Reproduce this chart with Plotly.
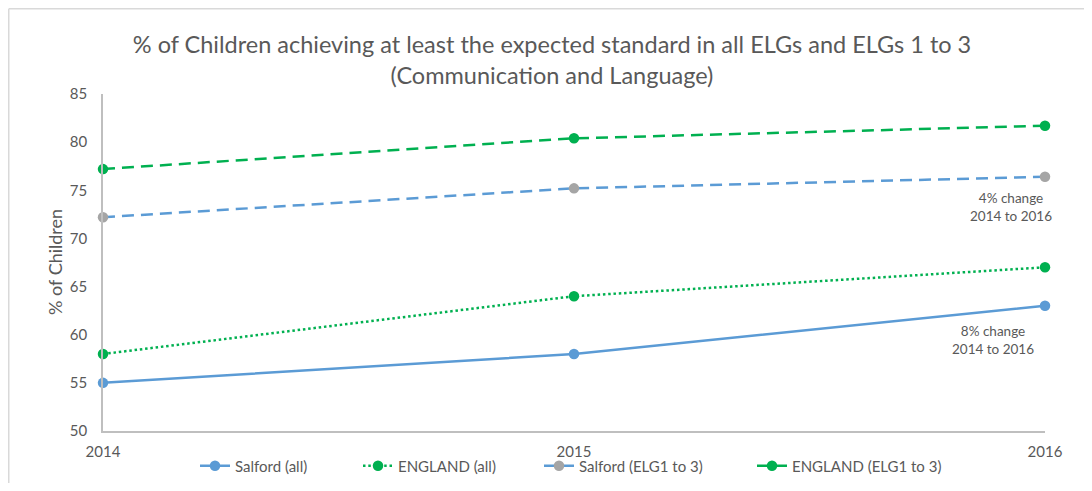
import plotly.graph_objects as go

years = [2014, 2015, 2016]
salford_all = [55, 58, 63]
england_all = [58, 64, 67]
salford_elg = [72.2, 75.2, 76.4]
england_elg = [77.2, 80.4, 81.7]
y_ticks = [50, 55, 60, 65, 70, 75, 80, 85]

BLUE = "#5B9BD5"
GREEN = "#00B050"
GRAY = "#A5A5A5"
TXT = "#595959"
FONT = "Lato"
DASH = "12px,7px"
DOT = "2.5px,2.8px"

# page body has an 8px margin, so the figure is drawn offset by (8, 8)
OFF = 8
W, H = 1092 - 2 * OFF, 491 - 2 * OFF
ML, MT = 103 - OFF, 94 - OFF
MR = W - (1045 - OFF)
MB = H - (431 - OFF)
PW, PH = W - ML - MR, H - MT - MB


def px_x(px):  # px in page coordinates
    return (px - OFF - ML) / PW


def px_y(py):
    return (H - MB - (py - OFF)) / PH


fig = go.Figure()
fig.add_trace(go.Scatter(x=years, y=salford_all, name="Salford (all)", mode="lines+markers",
                         line=dict(color=BLUE, width=2.5), marker=dict(color=BLUE, size=10.5),
                         cliponaxis=False, legend="legend"))
fig.add_trace(go.Scatter(x=years, y=england_all, name="ENGLAND (all)", mode="lines+markers",
                         line=dict(color=GREEN, width=2.5, dash=DOT), marker=dict(color=GREEN, size=10.5),
                         cliponaxis=False, legend="legend2"))
fig.add_trace(go.Scatter(x=years, y=salford_elg, name="Salford (ELG1 to 3)", mode="lines+markers",
                         line=dict(color=BLUE, width=2.5, dash=DASH), marker=dict(color=GRAY, size=10.5),
                         cliponaxis=False, legend="legend3"))
fig.add_trace(go.Scatter(x=years, y=england_elg, name="ENGLAND (ELG1 to 3)", mode="lines+markers",
                         line=dict(color=GREEN, width=2.5, dash=DASH), marker=dict(color=GREEN, size=10.5),
                         cliponaxis=False, legend="legend4"))

fig.add_annotation(x=2016, y=salford_elg[2], xref="x", yref="y", text="4% change<br>2014 to 2016",
                   showarrow=False, xanchor="center", yanchor="top", xshift=-34, yshift=-11,
                   font=dict(family=FONT, size=13.5, color=TXT))
fig.add_annotation(x=2016, y=salford_all[2], xref="x", yref="y", text="8% change<br>2014 to 2016",
                   showarrow=False, xanchor="center", yanchor="top", xshift=-52, yshift=-15,
                   font=dict(family=FONT, size=13.5, color=TXT))

# y-axis title
fig.add_annotation(x=px_x(55), y=px_y(262), xref="paper", yref="paper", text="% of Children",
                   showarrow=False, textangle=-90, xanchor="center", yanchor="middle",
                   font=dict(family=FONT, size=18, color=TXT))

# chart border (top and left)
fig.add_shape(type="line", xref="paper", yref="paper", x0=px_x(8.75), x1=px_x(1100), y0=px_y(8.75), y1=px_y(8.75),
              line=dict(color="#D9D9D9", width=1.5))
fig.add_shape(type="line", xref="paper", yref="paper", x0=px_x(8.75), x1=px_x(8.75), y0=px_y(8.75), y1=px_y(500),
              line=dict(color="#D9D9D9", width=1.5))

leg_common = dict(orientation="h", yanchor="middle", xanchor="left", y=px_y(466),
                  font=dict(size=15, color=TXT, family=FONT), bgcolor="rgba(0,0,0,0)")
text_starts = [237, 400, 581, 794]

fig.update_layout(
    width=W, height=H,
    margin=dict(l=ML, r=MR, t=MT, b=MB, autoexpand=False),
    paper_bgcolor="white", plot_bgcolor="white",
    font=dict(family=FONT, color=TXT, size=15),
    title=dict(text="% of Children achieving at least the expected standard in all ELGs and ELGs 1 to 3<br>(Communication and Language)",
               x=(552 - OFF) / W, xanchor="center", y=1 - (53 - OFF) / H, yanchor="middle",
               font=dict(family=FONT, size=23.5, color=TXT)),
    xaxis=dict(range=[2014, 2016], tickvals=years, ticktext=[str(y) for y in years],
               showgrid=False, zeroline=False, showline=True, linecolor="#BFBFBF", linewidth=1.5,
               ticks="", tickfont=dict(size=15, color=TXT), automargin=False, ticklabelstandoff=6),
    yaxis=dict(range=[50, 85], tickvals=y_ticks, showgrid=False, zeroline=False,
               showline=True, linecolor="#BFBFBF", linewidth=1.5, ticks="",
               tickfont=dict(size=15, color=TXT), automargin=False, ticklabelstandoff=11),
    legend=dict(x=px_x(text_starts[0] - 42), **leg_common),
    legend2=dict(x=px_x(text_starts[1] - 42), **leg_common),
    legend3=dict(x=px_x(text_starts[2] - 42), **leg_common),
    legend4=dict(x=px_x(text_starts[3] - 42), **leg_common),
    showlegend=True,
)

fig.write_html("out.html")
